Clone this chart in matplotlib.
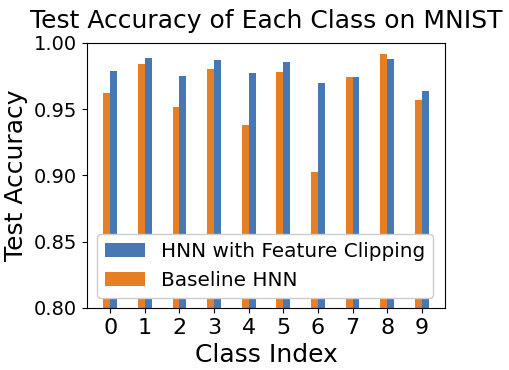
import numpy as np
from matplotlib import pyplot as plt

classes = list(range(10))
baseline_hnn = [0.962, 0.984, 0.952, 0.980, 0.938, 0.978, 0.903, 0.974, 0.992, 0.957]
hnn_clipping = [0.979, 0.989, 0.975, 0.987, 0.977, 0.986, 0.970, 0.974, 0.988, 0.964]

blue = '#4878b4'
orange = '#e67f24'

fig = plt.figure(figsize=(5.1, 3.7), dpi=100)
ax = fig.add_axes([0.1706, 0.1676, 0.7019, 0.7162])

x = np.arange(len(classes))
width = 0.2
b1 = ax.bar(x - width / 2, baseline_hnn, width, color=orange, label='Baseline HNN')
b2 = ax.bar(x + width / 2, hnn_clipping, width, color=blue, label='HNN with Feature Clipping')

ax.set_ylim(0.80, 1.00)
ax.set_yticks([0.80, 0.85, 0.90, 0.95, 1.00])
ax.set_xticks(x)
ax.set_xticklabels([str(c) for c in classes], fontsize=16)
ax.tick_params(axis='y', labelsize=14)
ax.set_xlabel('Class Index', fontsize=18)
ax.set_ylabel('Test Accuracy', fontsize=18)
ax.set_title('Test Accuracy of Each Class on MNIST', fontsize=18, pad=11)
ax.legend(handles=[b2, b1], loc='lower left', fontsize=14.4, framealpha=1)

plt.savefig('out.png')
